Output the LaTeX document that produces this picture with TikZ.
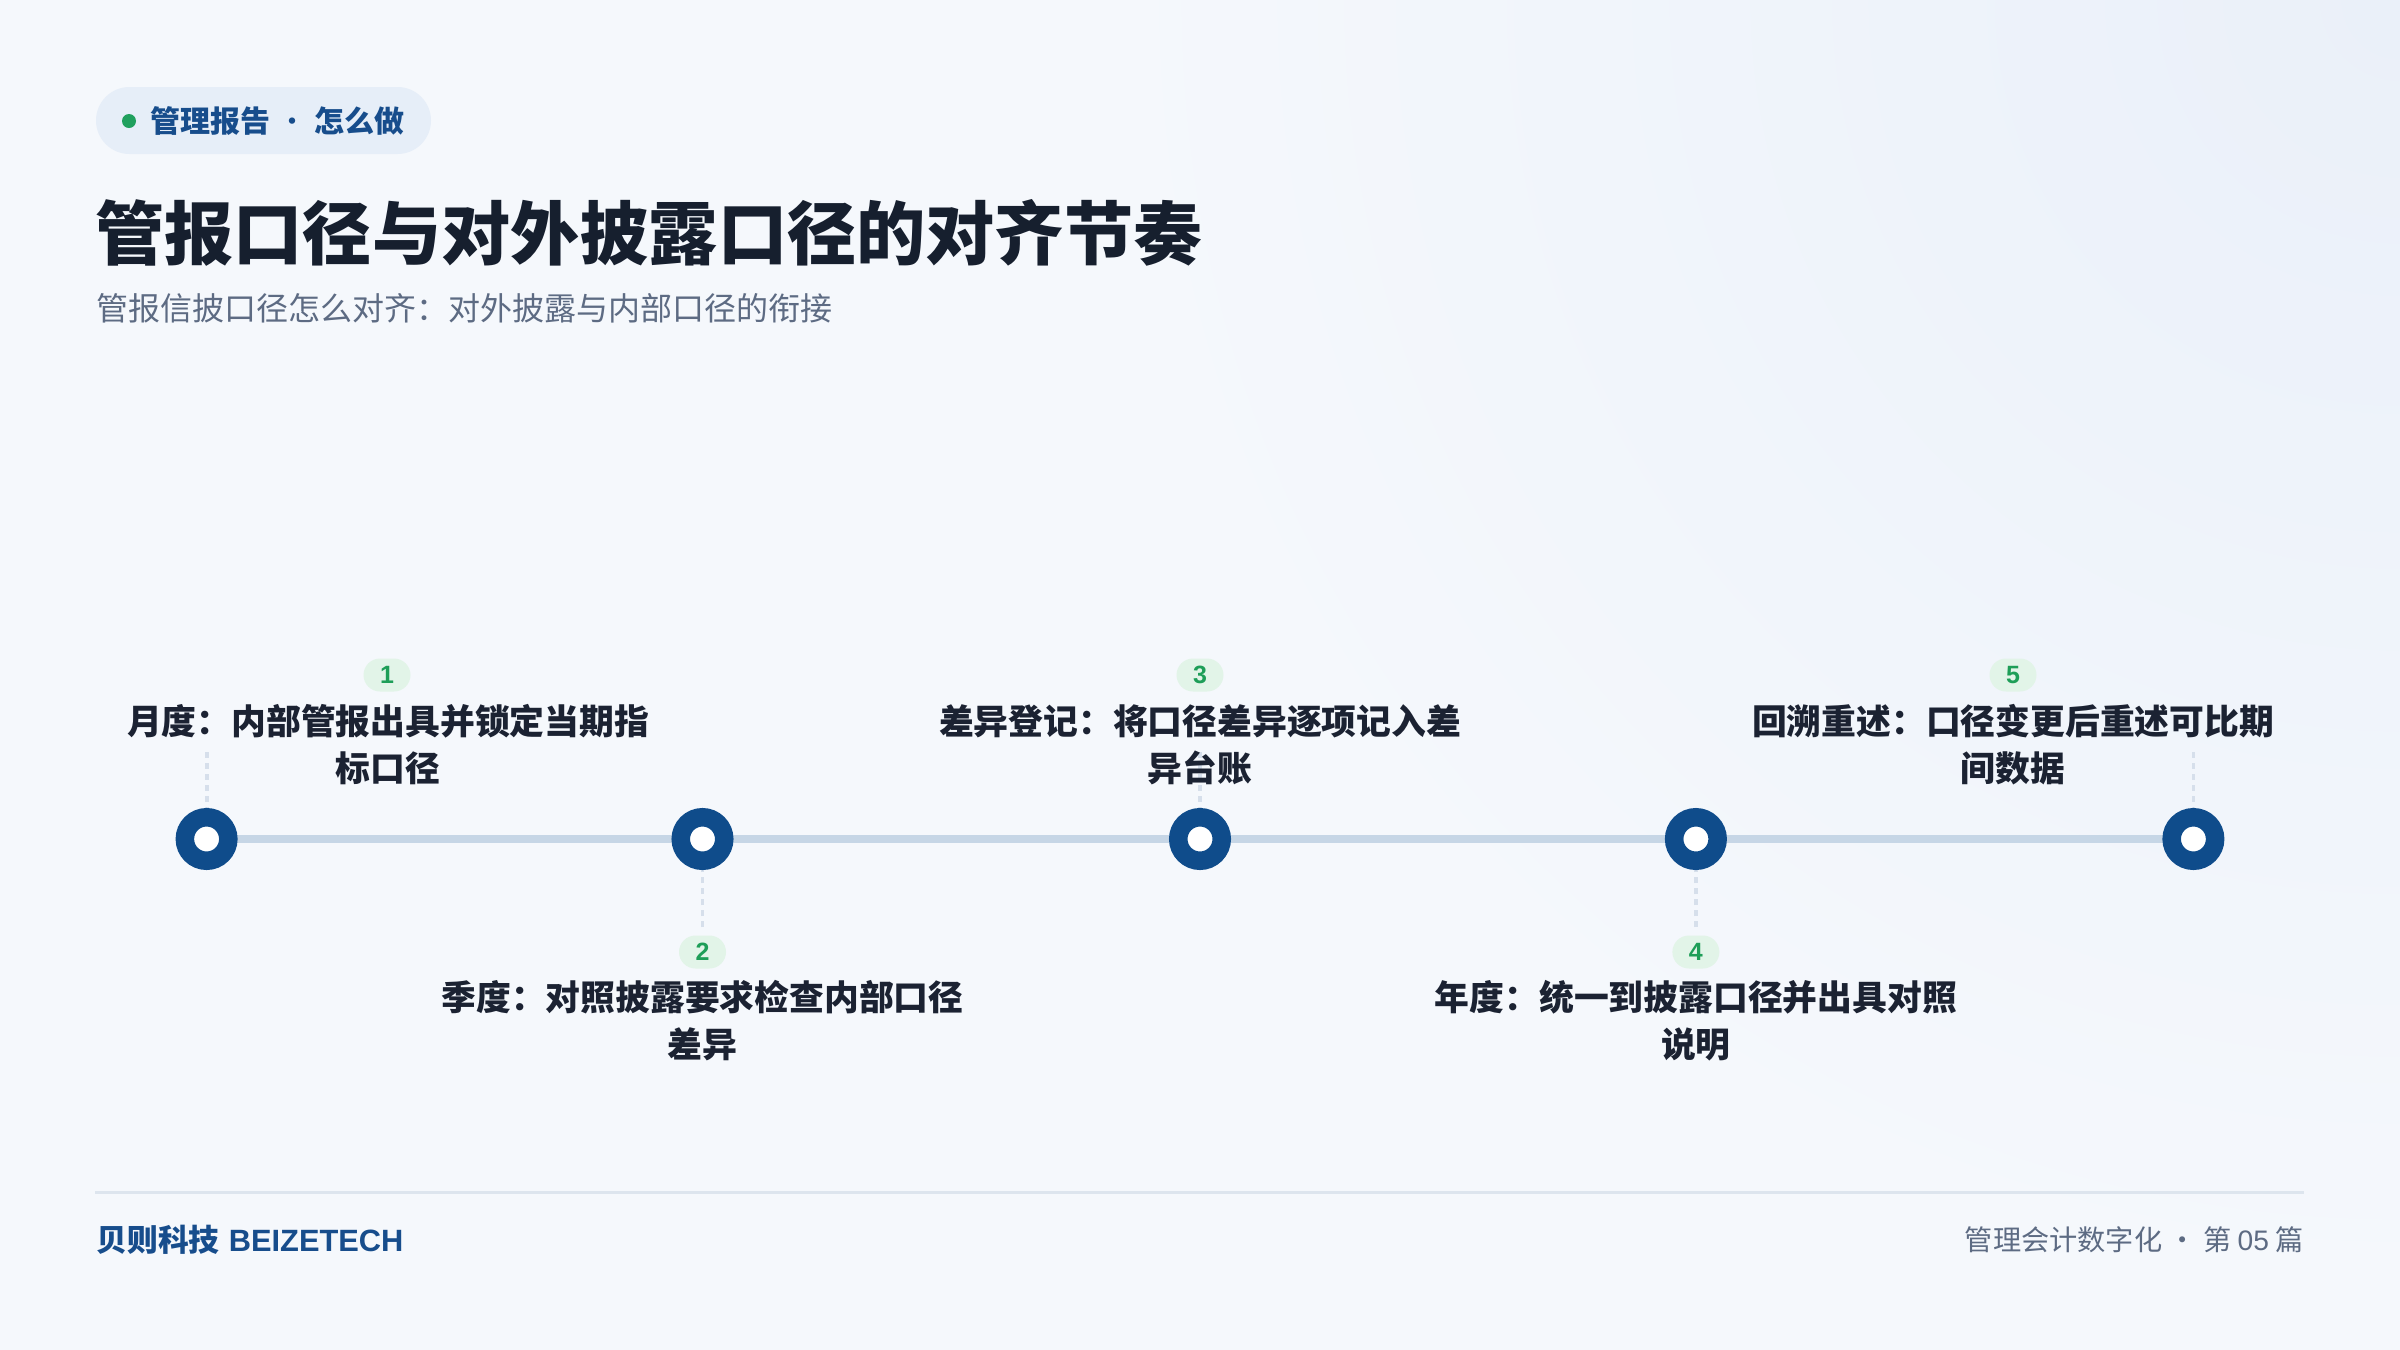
\documentclass[tikz,border=0pt]{standalone}
\usepackage{fontspec}
\setmainfont{Noto Sans CJK SC}
\newfontfamily\latinfont{Liberation Sans}
\usetikzlibrary{backgrounds}
\definecolor{bgcol}{HTML}{F5F8FC}
\definecolor{tintcol}{HTML}{EAF0F9}
\definecolor{pillfill}{HTML}{E6EEF8}
\definecolor{brandblue}{HTML}{174D8C}
\definecolor{dotgreen}{HTML}{20A05E}
\definecolor{titlecol}{HTML}{161F2E}
\definecolor{subcol}{HTML}{5D6B83}
\definecolor{nodeblue}{HTML}{0F4C8B}
\definecolor{trackcol}{HTML}{C6D6E6}
\definecolor{guidecol}{HTML}{D6DFEB}
\definecolor{badgefill}{HTML}{E2F4E8}
\definecolor{badgegreen}{HTML}{1E9E58}
\definecolor{labeltext}{HTML}{1B2232}
\definecolor{rulecol}{HTML}{DDE5EE}
\begin{document}
\begin{tikzpicture}[x=0.5pt,y=-0.5pt,
  stop/.style={circle, draw=nodeblue, fill=white, line width=9.25pt, minimum size=21.75pt, inner sep=0pt},
  badge/.style={rounded corners=8.25pt, fill=badgefill, minimum width=23.5pt, minimum height=16.5pt, inner sep=0pt, text=badgegreen, font=\latinfont\fontsize{12.5pt}{12.5pt}\selectfont\bfseries},
  steptext/.style={align=center, inner sep=0pt, text=labeltext, font=\fontsize{17.4pt}{23.5pt}\selectfont\bfseries},
  track/.style={line width=4pt, draw=trackcol},
  guide/.style={line width=1.9pt, draw=guidecol, dash pattern=on 3pt off 2.5pt},
]
% background
\begin{scope}[on background layer]
  \fill[bgcol] (0,0) rectangle (2400,1350);
  \begin{scope}
    \clip (0,0) rectangle (2400,1350);
    \shade[inner color=tintcol, outer color=bgcol] (2400,0) circle[radius=650pt];
  \end{scope}
\end{scope}
\useasboundingbox (0,0) rectangle (2400,1350);

% header tag
\node[fill=pillfill, rounded corners=16.75pt, minimum width=167.5pt, minimum height=33.5pt, inner sep=0pt] (tag) at (263.5,120.5) {};
\node[circle, fill=dotgreen, minimum size=7pt, inner sep=0pt] (tagdot) at (129,121) {};
\node[anchor=west, inner sep=0pt, text=brandblue, font=\fontsize{15pt}{16pt}\selectfont\bfseries] (tagtext) at (150,121) {管理报告 {\mdseries ·} 怎么做};

% title and subtitle
\node[anchor=west, inner sep=0pt, text=titlecol, font=\fontsize{34.6pt}{40pt}\selectfont\bfseries] (title) at (95,233) {管报口径与对外披露口径的对齐节奏};
\node[anchor=west, inner sep=0pt, text=subcol, font=\fontsize{16pt}{18pt}\selectfont] (subtitle) at (96,308) {管报信披口径怎么对齐：对外披露与内部口径的衔接};

% timeline stops
\node[stop] (n1) at (206.6,839) {};
\node[stop] (n2) at (702.5,839) {};
\node[stop] (n3) at (1200,839) {};
\node[stop] (n4) at (1695.9,839) {};
\node[stop] (n5) at (2193.4,839) {};

% guide ends
\coordinate (g1) at (206.6,752);
\coordinate (g2) at (702.5,927);
\coordinate (g3) at (1200,752);
\coordinate (g4) at (1695.9,927);
\coordinate (g5) at (2193.4,752);

% badges
\node[badge] (b1) at (387,675) {1};
\node[badge] (b2) at (702.5,952) {2};
\node[badge] (b3) at (1200,675) {3};
\node[badge] (b4) at (1695.9,952) {4};
\node[badge] (b5) at (2013,675) {5};

% step texts
\node[steptext] (s1) at (388,745) {月度：内部管报出具并锁定当期指\\标口径};
\node[steptext] (s2) at (702.5,1021) {季度：对照披露要求检查内部口径\\差异};
\node[steptext] (s3) at (1200,745) {差异登记：将口径差异逐项记入差\\异台账};
\node[steptext] (s4) at (1695.9,1021) {年度：统一到披露口径并出具对照\\说明};
\node[steptext] (s5) at (2013,745) {回溯重述：口径变更后重述可比期\\间数据};

\begin{scope}[on background layer]
  \draw[track] (n1.center) -- (n2.center) -- (n3.center) -- (n4.center) -- (n5.center);
  \draw[guide] (g1) -- (n1.center);
  \draw[guide] (g2) -- (n2.center);
  \draw[guide] (g3) -- (n3.center);
  \draw[guide] (g4) -- (n4.center);
  \draw[guide] (g5) -- (n5.center);
\end{scope}

% footer
\coordinate (rl) at (95,1192);
\coordinate (rr) at (2304,1192);
\draw[rulecol, line width=1.5pt] (rl) -- (rr);
\node[anchor=west, inner sep=0pt, text=brandblue, font=\fontsize{15.4pt}{18pt}\selectfont\bfseries] (brand) at (96,1240) {贝则科技\hspace{0.3em}{\latinfont BEIZETECH}};
\node[anchor=east, inner sep=0pt, text=subcol, font=\fontsize{14.1pt}{18pt}\selectfont] (series) at (2304,1240) {管理会计数字化 · 第 {\latinfont 05} 篇};
\end{tikzpicture}
\end{document}
